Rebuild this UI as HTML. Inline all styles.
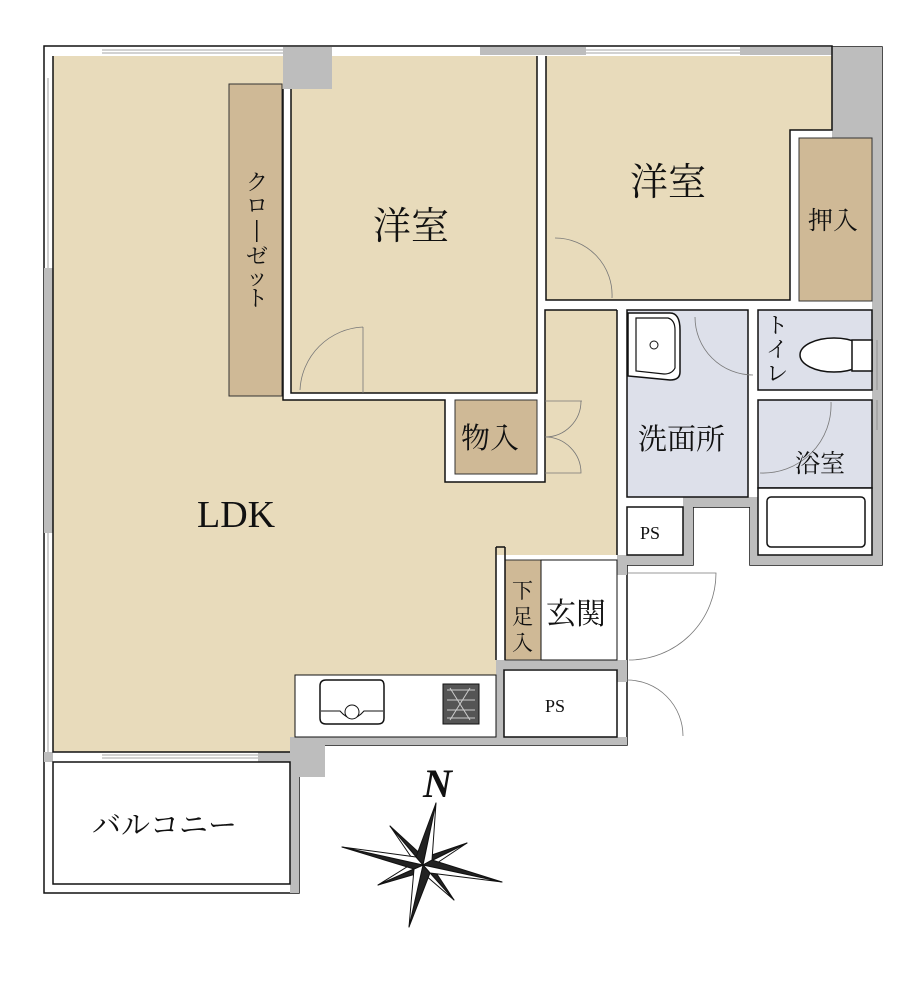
<!DOCTYPE html>
<html><head><meta charset="utf-8"><style>
html,body{margin:0;padding:0;background:#fff}
svg{display:block}
text{font-family:"Liberation Serif","Noto Serif CJK JP","Noto Serif CJK SC",serif;fill:#111}
</style></head><body>
<svg width="924" height="990" viewBox="0 0 924 990" xmlns="http://www.w3.org/2000/svg">
<g stroke="#111" stroke-width="1.5">
<path d="M44,46 H832 V47 H882 V565 H750 V507 H693 V565 H627 V745 H299 V893 H44 Z" fill="#fff"/>
</g>
<g fill="#bdbdbd">
<rect x="832" y="47" width="50" height="91"/>
<rect x="872" y="138" width="10" height="427"/>
<rect x="750" y="555" width="132" height="10"/>
<rect x="750" y="497" width="8" height="68"/>
<rect x="683" y="497" width="75" height="10"/>
<rect x="683" y="497" width="10" height="68"/>
<rect x="617" y="555" width="76" height="10"/>
<rect x="617" y="555" width="10" height="20"/>
<rect x="496" y="660" width="131" height="9"/>
<rect x="496" y="660" width="8" height="85"/>
<rect x="617" y="660" width="10" height="22"/>
<rect x="290" y="737" width="337" height="8"/>
<rect x="290" y="737" width="35" height="40"/>
<rect x="290" y="737" width="9" height="156"/>
<rect x="283" y="47" width="49" height="42"/>
<rect x="44" y="268" width="9" height="265"/>
<rect x="480" y="47" width="106" height="8"/>
<rect x="740" y="47" width="92" height="8"/>
<rect x="44" y="752" width="9" height="10"/>
<rect x="258" y="752" width="32" height="10"/>
</g>
<path d="M53,56 H283 V400 H445 V482 H545 V310 H617 V555 H496 V660 H496 V675 H295 V737 H290 V752 H53 Z" fill="#e8dbbb"/>
<rect x="291" y="89" width="246" height="304" fill="#e8dbbb"/>
<rect x="332" y="56" width="205" height="33" fill="#e8dbbb"/>
<path d="M546,56 H832 V130 H790 V300 H546 Z" fill="#e8dbbb"/>
<g fill="#cfb996" stroke="#333" stroke-width="1">
<rect x="229" y="84" width="53" height="312"/>
<rect x="799" y="138" width="73" height="163"/>
<rect x="455" y="400" width="82" height="74"/>
<rect x="505" y="560" width="36" height="100"/>
</g>
<g fill="none" stroke="#111" stroke-width="1.5">
<path d="M283,89 V400 H445 V482 H545 V310 H617"/>
<path d="M291,89 V393 H537 V300 M546,56 V300 H790 V130 H832 V47"/>
<path d="M537,56 V300"/>
<path d="M617,310 V555"/>
<path d="M496,547 V660 M505,547 V660 M496,547 H505"/>
<path d="M53,56 V752 H290"/>
<path d="M53,762 H290 V884 H53 Z"/>
</g>
<g fill="#dde0ea" stroke="#111" stroke-width="1.5">
<rect x="627" y="310" width="121" height="187"/>
<rect x="758" y="310" width="114" height="80"/>
<rect x="758" y="400" width="114" height="88"/>
</g>
<g fill="#fff" stroke="#111" stroke-width="1.5">
<rect x="758" y="488" width="114" height="67"/>
<rect x="627" y="507" width="56" height="48"/>
<rect x="541" y="560" width="76" height="100" stroke-width="1"/>
<rect x="504" y="670" width="113" height="67"/>
<rect x="295" y="675" width="201" height="62" stroke-width="1"/>
</g>
<rect x="767" y="497" width="98" height="50" rx="4" fill="#fff" stroke="#111" stroke-width="1.5"/>
<path d="M628,313 H670 Q680,313 680,330 V372 Q680,380 670,380 L628,376 Z" fill="#fff" stroke="#111" stroke-width="1.5"/>
<path d="M636,318 H668 Q675,320 675,330 V368 Q672,374 664,374 L636,371 Z" fill="none" stroke="#111" stroke-width="1.2"/>
<circle cx="654" cy="345" r="4" fill="none" stroke="#111"/>
<ellipse cx="834" cy="355" rx="34" ry="17" fill="#fff" stroke="#111" stroke-width="1.5"/>
<rect x="852" y="340" width="20" height="31" fill="#fff" stroke="#111" stroke-width="1.5"/>
<path d="M326,680 H380 Q384,680 384,686 V718 Q384,724 378,724 H326 Q320,724 320,718 V686 Q320,680 326,680 Z" fill="#fff" stroke="#111" stroke-width="1.5"/>
<path d="M321,711 H340 Q352,725 364,711 H383" fill="none" stroke="#111"/>
<circle cx="352" cy="712" r="7" fill="#fff" stroke="#111"/>
<rect x="443" y="684" width="36" height="40" fill="#555" stroke="#111"/>
<path d="M447,690 H475 M447,700 H475 M447,710 H475 M447,718 H475 M450,688 L470,720 M470,688 L450,720" stroke="#ccc" stroke-width="1"/>
<g fill="none" stroke="#777" stroke-width="0.8">
<path d="M363,327 V393 M363,327 A66,66 0 0 0 300,390"/>
<path d="M555,238 A57,57 0 0 1 612,298"/>
<path d="M695,317 A58,58 0 0 0 753,375 H748"/>
<path d="M831,402 A68,68 0 0 1 760,473"/>
<path d="M545,401 H582 M545,437 A36,36 0 0 0 581,401 M545,437 A36,36 0 0 1 581,473 H545"/>
<path d="M627,573 H716 A87,87 0 0 1 629,660"/>
<path d="M627,680 A56,56 0 0 1 683,736"/>
</g>
<g stroke="#888" stroke-width="0.8">
<path d="M102,50 H283 M102,53 H283 M586,50 H740 M586,53 H740 M48,78 V268 M48,533 V752 M102,755 H258 M102,758 H258 M877,340 V390 M877,400 V430"/>
</g>
<g stroke="#111" stroke-width="1" stroke-linejoin="round">
<polygon points="390,826 427,860 423,865" fill="#222"/>
<polygon points="390,826 418,867 423,865" fill="#fff"/>
<polygon points="467,843 420,859 423,865" fill="#222"/>
<polygon points="467,843 428,869 423,865" fill="#fff"/>
<polygon points="378,885 418,860 423,865" fill="#fff"/>
<polygon points="378,885 426,871 423,865" fill="#222"/>
<polygon points="454,900 429,862 423,865" fill="#222"/>
<polygon points="454,900 417,868 423,865" fill="#fff"/>
<polygon points="436,803 416,857 423,865" fill="#222"/>
<polygon points="436,803 432,860 423,865" fill="#fff"/>
<polygon points="502,882 432,860 423,865" fill="#222"/>
<polygon points="502,882 430,873 423,865" fill="#fff"/>
<polygon points="409,927 430,873 423,865" fill="#222"/>
<polygon points="409,927 414,869 423,865" fill="#fff"/>
<polygon points="342,847 414,869 423,865" fill="#222"/>
<polygon points="342,847 416,857 423,865" fill="#fff"/>
</g>
<text x="423" y="797" font-size="40" font-style="italic" font-weight="bold">N</text>
<text x="373" y="239" font-size="38">洋室</text>
<text x="630" y="195" font-size="38">洋室</text>
<text x="197" y="527" font-size="38">LDK</text>
<text x="808" y="229" font-size="25">押入</text>
<text x="461" y="448" font-size="29">物入</text>
<text x="638" y="449" font-size="29">洗面所</text>
<text x="795" y="472" font-size="25">浴室</text>
<text x="546" y="624" font-size="30">玄関</text>
<text x="640" y="539" font-size="18">PS</text>
<text x="545" y="712" font-size="18">PS</text>
<text x="92" y="835" font-size="29">バルコニー</text>
<g font-size="22">
<text x="246" y="190">ク</text>
<text x="246" y="213">ロ</text>
<text x="246" y="264">ゼ</text>
<text x="246" y="285">ッ</text>
<text x="246" y="306">ト</text>
</g>
<rect x="256" y="220" width="1.5" height="22" fill="#111"/>
<g font-size="22">
<text x="766" y="333">ト</text><text x="766" y="357">イ</text><text x="766" y="381">レ</text>
</g>
<g font-size="21">
<text x="512" y="598">下</text><text x="512" y="624">足</text><text x="512" y="650">入</text>
</g>
</svg>
</body></html>
